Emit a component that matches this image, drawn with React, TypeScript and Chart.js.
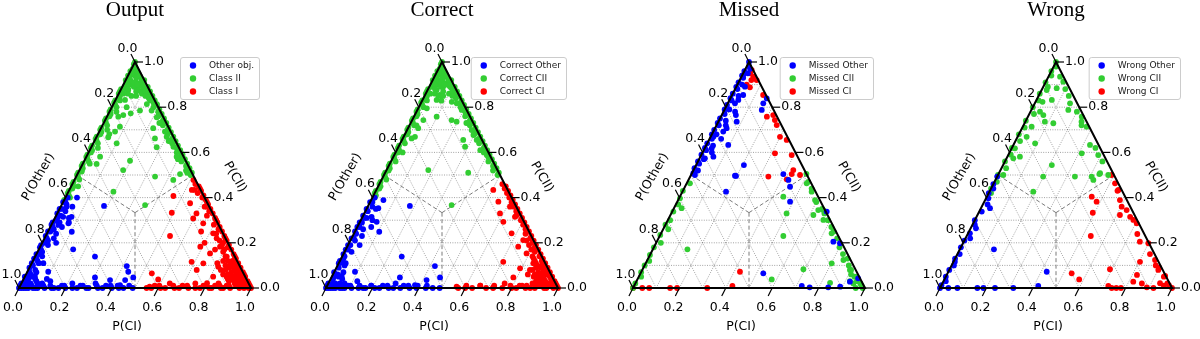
import { useEffect, useRef } from "react";
import { Chart, registerables } from "chart.js";

Chart.register(...registerables);

// Each point is [P(CI), P(CII)]; P(Other) = 1 - P(CI) - P(CII)
type Pt = [number, number];

const TITLES = ["Output", "Correct", "Missed", "Wrong"];
const LEGENDS = [
  ["Other obj.", "Class II", "Class I"],
  ["Correct Other", "Correct CII", "Correct CI"],
  ["Missed Other", "Missed CII", "Missed CI"],
  ["Wrong Other", "Wrong CII", "Wrong CI"],
];
const TICKS = [0, 0.2, 0.4, 0.6, 0.8, 1.0];
const GRID = [0.1, 0.2, 0.3, 0.4, 0.5, 0.6, 0.7, 0.8, 0.9];
const COLORS = ["#0000ff", "#32cd32", "#ff0000"];
const AXIS_BOTTOM = "P(CI)";
const AXIS_LEFT = "P(Other)";
const AXIS_RIGHT = "P(CII)";

// ---- dense edge bands shared by Output and Correct (most outputs are correct) ----
const edgeOther: Pt[] = [
  [0.0, 0.01], [0.01, 0.05], [0.0, 0.11], [0.01, 0.13], [0.0, 0.15], [0.01, 0.17], [0.0, 0.19], [0.01, 0.22],
  [0.0, 0.25], [0.01, 0.27], [0.0, 0.29], [0.01, 0.31], [0.0, 0.35], [0.01, 0.38], [0.02, 0.02], [0.03, 0.05],
  [0.02, 0.0], [0.04, 0.0], [0.06, 0.0], [0.08, 0.0], [0.1, 0.01], [0.14, 0.0], [0.17, 0.0], [0.19, 0.01],
  [0.23, 0.0], [0.26, 0.01], [0.29, 0.0], [0.33, 0.01], [0.36, 0.0], [0.39, 0.01], [0.43, 0.0], [0.49, 0.0],
  [0.01, 0.0], [0.03, 0.02], [0.05, 0.04], [0.07, 0.02], [0.04, 0.07], [0.03, 0.11],
];
const edgeCII: Pt[] = [
  [0.01, 0.41], [0.0, 0.43], [0.01, 0.45], [0.0, 0.47], [0.01, 0.49], [0.0, 0.51], [0.01, 0.53], [0.0, 0.55],
  [0.01, 0.57], [0.0, 0.59], [0.01, 0.61], [0.0, 0.63], [0.01, 0.65], [0.0, 0.67], [0.01, 0.69], [0.0, 0.71],
  [0.01, 0.73], [0.0, 0.75], [0.01, 0.77], [0.0, 0.79], [0.01, 0.81], [0.0, 0.83], [0.01, 0.85], [0.0, 0.87],
  [0.01, 0.89],
  [0.49, 0.51], [0.47, 0.53], [0.45, 0.55], [0.43, 0.57], [0.41, 0.59], [0.39, 0.61], [0.37, 0.63], [0.35, 0.65],
  [0.33, 0.67], [0.31, 0.69], [0.29, 0.71], [0.27, 0.73], [0.25, 0.75], [0.23, 0.77], [0.21, 0.79], [0.19, 0.81],
  [0.17, 0.83], [0.15, 0.85], [0.13, 0.87], [0.11, 0.89],
  [0.0, 0.99], [0.005, 0.97], [0.02, 0.97], [0.04, 0.95], [0.06, 0.93], [0.03, 0.91], [0.05, 0.94], [0.0, 0.94],
  [0.08, 0.92], [0.09, 0.89], [0.12, 0.87], [0.05, 0.89], [0.07, 0.87], [0.04, 0.86], [0.02, 0.86], [0.06, 0.85],
  [0.1, 0.86], [0.08, 0.85], [0.03, 0.96], [0.01, 0.95], [0.04, 0.91], [0.06, 0.9], [0.02, 0.9], [0.09, 0.9],
  [0.07, 0.92], [0.03, 0.88], [0.11, 0.87], [0.02, 0.83], [0.12, 0.85],
];
const edgeCI: Pt[] = [
  [0.99, 0.01], [0.97, 0.03], [0.95, 0.05], [0.93, 0.07], [0.91, 0.09], [0.89, 0.11], [0.87, 0.13], [0.85, 0.15],
  [0.83, 0.17], [0.81, 0.19], [0.79, 0.21], [0.77, 0.23], [0.75, 0.25], [0.73, 0.27], [0.71, 0.29], [0.69, 0.31],
  [0.67, 0.33], [0.65, 0.35], [0.63, 0.37], [0.61, 0.39], [0.59, 0.41], [0.57, 0.43], [0.55, 0.45],
  [0.57, 0.0], [0.6, 0.01], [0.63, 0.0], [0.66, 0.01], [0.69, 0.0], [0.72, 0.01], [0.76, 0.0], [0.79, 0.01],
  [0.82, 0.0], [0.84, 0.01], [0.86, 0.01], [0.88, 0.0], [0.9, 0.01], [0.92, 0.02], [0.94, 0.01], [0.95, 0.0],
  [0.96, 0.02], [0.98, 0.02],
  [0.93, 0.03], [0.91, 0.04], [0.89, 0.05], [0.92, 0.06], [0.9, 0.07], [0.88, 0.09], [0.86, 0.1], [0.84, 0.12],
  [0.85, 0.08], [0.87, 0.06], [0.89, 0.03], [0.82, 0.14], [0.8, 0.17], [0.78, 0.19], [0.76, 0.21],
];

// ---------------- Output ----------------
const outputOtherMain: Pt[] = [
  [0.01, 0.4], [0.0, 0.38], [0.02, 0.37], [0.01, 0.35], [0.0, 0.33], [0.02, 0.32], [0.01, 0.3], [0.03, 0.29],
  [0.0, 0.28], [0.02, 0.26], [0.01, 0.25], [0.04, 0.24], [0.0, 0.23], [0.02, 0.21], [0.01, 0.2], [0.03, 0.19],
  [0.0, 0.18], [0.02, 0.16], [0.01, 0.15], [0.0, 0.13], [0.02, 0.12], [0.01, 0.1], [0.0, 0.09], [0.03, 0.08],
  [0.01, 0.07], [0.0, 0.05], [0.02, 0.04], [0.01, 0.03], [0.0, 0.02], [0.0, 0.0], [0.02, 0.01], [0.04, 0.02],
  [0.05, 0.36], [0.03, 0.34], [0.06, 0.31], [0.05, 0.27], [0.07, 0.29], [0.04, 0.22], [0.06, 0.2], [0.03, 0.14],
  [0.05, 0.11], [0.02, 0.06], [0.06, 0.03], [0.08, 0.01],
  [0.03, 0.0], [0.05, 0.01], [0.07, 0.0], [0.09, 0.02], [0.11, 0.0], [0.13, 0.01], [0.15, 0.0], [0.18, 0.01],
  [0.2, 0.0], [0.22, 0.02], [0.25, 0.0], [0.27, 0.01], [0.3, 0.0], [0.32, 0.02], [0.34, 0.0], [0.37, 0.01],
  [0.4, 0.0], [0.42, 0.01], [0.45, 0.0], [0.47, 0.01], [0.12, 0.03], [0.1, 0.04],
  [0.05, 0.4], [0.185, 0.363], [0.025, 0.36], [0.069, 0.315], [0.07, 0.286], [0.103, 0.249], [0.148, 0.171],
  [0.258, 0.139], [0.09, 0.072], [0.042, 0.053], [0.304, 0.047], [0.375, 0.035], [0.44, 0.035], [0.416, 0.097],
  [0.435, 0.072], [0.469, 0.047], [0.429, 0.013], [0.033, 0.315], [0.03, 0.279],
];
const outputCIIMain: Pt[] = [
  [0.0, 1.0], [0.01, 0.98], [0.0, 0.96], [0.02, 0.96], [0.01, 0.94], [0.03, 0.94], [0.0, 0.92], [0.02, 0.92],
  [0.04, 0.93], [0.05, 0.91], [0.07, 0.91], [0.01, 0.9], [0.03, 0.9], [0.08, 0.9], [0.0, 0.88], [0.02, 0.88],
  [0.1, 0.88], [0.06, 0.89], [0.09, 0.87], [0.11, 0.86],
  [0.0, 0.86], [0.01, 0.84], [0.0, 0.82], [0.02, 0.8], [0.0, 0.78], [0.01, 0.76], [0.0, 0.74], [0.02, 0.72],
  [0.0, 0.7], [0.01, 0.68], [0.0, 0.66], [0.02, 0.64], [0.0, 0.62], [0.01, 0.6], [0.0, 0.58], [0.02, 0.56],
  [0.0, 0.54], [0.01, 0.52], [0.0, 0.5], [0.02, 0.48], [0.0, 0.46], [0.01, 0.44], [0.0, 0.42], [0.02, 0.4],
  [0.0, 0.39], [0.03, 0.45], [0.03, 0.55], [0.03, 0.62], [0.03, 0.7], [0.03, 0.78],
  [0.13, 0.86], [0.14, 0.84], [0.17, 0.82], [0.18, 0.8], [0.21, 0.78], [0.22, 0.76], [0.25, 0.74], [0.26, 0.72],
  [0.29, 0.7], [0.3, 0.68], [0.33, 0.66], [0.34, 0.64], [0.37, 0.62], [0.38, 0.6], [0.41, 0.58], [0.42, 0.56],
  [0.45, 0.54], [0.46, 0.52], [0.49, 0.5], [0.47, 0.51], [0.15, 0.83], [0.24, 0.73], [0.32, 0.65], [0.4, 0.57],
  [0.044, 0.898], [0.07, 0.888], [0.033, 0.876], [0.101, 0.876], [0.134, 0.846], [0.163, 0.832], [0.187, 0.814],
  [0.041, 0.832], [0.064, 0.8], [0.049, 0.758], [0.067, 0.765], [0.095, 0.773], [0.129, 0.785], [0.144, 0.814],
  [0.179, 0.785], [0.216, 0.755], [0.221, 0.773], [0.255, 0.74], [0.078, 0.714], [0.068, 0.692], [0.049, 0.681],
  [0.051, 0.667], [0.101, 0.64], [0.225, 0.707], [0.283, 0.692], [0.302, 0.669], [0.325, 0.652], [0.353, 0.625],
  [0.282, 0.623], [0.255, 0.662], [0.197, 0.563], [0.059, 0.581], [0.06, 0.549], [0.389, 0.581], [0.405, 0.593],
  [0.013, 0.515], [0.188, 0.522], [0.34, 0.493], [0.426, 0.478], [0.442, 0.504], [0.194, 0.426], [0.36, 0.367],
];
const outputCIMain: Pt[] = [
  [0.53, 0.46], [0.56, 0.44], [0.56, 0.42], [0.59, 0.4], [0.62, 0.38], [0.62, 0.36], [0.65, 0.34], [0.65, 0.32],
  [0.7, 0.3], [0.7, 0.28], [0.73, 0.26], [0.73, 0.24], [0.78, 0.22], [0.78, 0.2], [0.81, 0.18], [0.8, 0.16],
  [0.86, 0.14], [0.86, 0.12], [0.89, 0.1], [0.89, 0.08], [0.94, 0.06], [0.93, 0.05], [0.95, 0.04], [0.94, 0.03],
  [0.97, 0.02], [0.95, 0.02], [0.98, 0.01], [0.96, 0.01], [1.0, 0.0], [0.99, 0.0], [0.97, 0.0],
  [0.55, 0.0], [0.58, 0.01], [0.61, 0.0], [0.64, 0.02], [0.67, 0.0], [0.7, 0.01], [0.73, 0.0], [0.75, 0.02],
  [0.78, 0.0], [0.8, 0.01], [0.83, 0.0], [0.85, 0.02], [0.87, 0.0], [0.89, 0.01], [0.91, 0.0], [0.93, 0.01],
  [0.9, 0.05], [0.88, 0.07], [0.92, 0.04], [0.86, 0.09], [0.9, 0.08], [0.84, 0.1], [0.87, 0.11], [0.82, 0.12],
  [0.91, 0.06], [0.85, 0.06], [0.88, 0.04], [0.83, 0.08], [0.8, 0.11],
  [0.462, 0.407], [0.492, 0.333], [0.536, 0.23], [0.513, 0.478], [0.528, 0.434], [0.55, 0.375], [0.597, 0.308],
  [0.651, 0.286], [0.716, 0.242], [0.742, 0.22], [0.775, 0.183], [0.826, 0.139], [0.869, 0.109], [0.912, 0.08],
  [0.686, 0.116], [0.726, 0.08], [0.54, 0.065], [0.581, 0.038], [0.56, 0.006], [0.69, 0.183], [0.747, 0.153],
  [0.74, 0.109], [0.812, 0.094], [0.812, 0.05], [0.87, 0.05], [0.906, 0.035], [0.8, 0.021], [0.629, 0.36],
  [0.54, 0.434], [0.6, 0.33], [0.66, 0.25], [0.7, 0.2], [0.76, 0.17],
];

// ---------------- Correct ----------------
const correctOtherMain: Pt[] = [
  [0.01, 0.4], [0.0, 0.38], [0.02, 0.36], [0.01, 0.34], [0.0, 0.32], [0.02, 0.31], [0.01, 0.29], [0.0, 0.27],
  [0.03, 0.26], [0.01, 0.24], [0.0, 0.22], [0.02, 0.21], [0.01, 0.19], [0.0, 0.17], [0.03, 0.16], [0.01, 0.14],
  [0.0, 0.12], [0.02, 0.11], [0.01, 0.09], [0.0, 0.07], [0.02, 0.06], [0.01, 0.04], [0.0, 0.02], [0.0, 0.0],
  [0.03, 0.01], [0.05, 0.02], [0.04, 0.35], [0.05, 0.3], [0.06, 0.27], [0.04, 0.23], [0.05, 0.19], [0.03, 0.1],
  [0.03, 0.0], [0.05, 0.01], [0.07, 0.0], [0.09, 0.01], [0.11, 0.0], [0.14, 0.01], [0.16, 0.0], [0.19, 0.01],
  [0.21, 0.0], [0.24, 0.01], [0.27, 0.0], [0.29, 0.02], [0.32, 0.0], [0.35, 0.01], [0.39, 0.0], [0.43, 0.01],
  [0.46, 0.0], [0.12, 0.03],
  [0.053, 0.389], [0.18, 0.363], [0.049, 0.353], [0.072, 0.293], [0.105, 0.249], [0.039, 0.315], [0.257, 0.139],
  [0.089, 0.072], [0.041, 0.053], [0.295, 0.047], [0.421, 0.097], [0.416, 0.035], [0.468, 0.047], [0.377, 0.013],
];
const correctCIIMain: Pt[] = [
  [0.0, 1.0], [0.01, 0.98], [0.0, 0.96], [0.02, 0.96], [0.01, 0.94], [0.03, 0.94], [0.0, 0.92], [0.02, 0.92],
  [0.04, 0.93], [0.05, 0.91], [0.07, 0.91], [0.01, 0.9], [0.03, 0.9], [0.08, 0.9], [0.0, 0.88], [0.06, 0.89],
  [0.0, 0.86], [0.01, 0.84], [0.0, 0.82], [0.02, 0.8], [0.0, 0.78], [0.01, 0.76], [0.0, 0.74], [0.02, 0.72],
  [0.0, 0.7], [0.01, 0.68], [0.0, 0.66], [0.02, 0.64], [0.0, 0.62], [0.01, 0.6], [0.0, 0.58], [0.02, 0.56],
  [0.0, 0.54], [0.01, 0.52], [0.0, 0.5], [0.02, 0.48], [0.0, 0.46], [0.01, 0.44], [0.0, 0.42], [0.01, 0.4],
  [0.03, 0.6], [0.03, 0.72],
  [0.11, 0.88], [0.13, 0.86], [0.14, 0.84], [0.17, 0.82], [0.18, 0.8], [0.21, 0.78], [0.22, 0.76], [0.25, 0.74],
  [0.26, 0.72], [0.29, 0.7], [0.3, 0.68], [0.33, 0.66], [0.34, 0.64], [0.37, 0.62], [0.38, 0.6], [0.41, 0.58],
  [0.42, 0.56], [0.45, 0.54], [0.46, 0.52], [0.49, 0.5], [0.24, 0.73], [0.36, 0.61],
  [0.031, 0.92], [0.078, 0.898], [0.039, 0.876], [0.064, 0.854], [0.1, 0.884], [0.061, 0.832], [0.083, 0.829],
  [0.13, 0.824], [0.155, 0.817], [0.191, 0.788], [0.037, 0.795], [0.098, 0.758], [0.17, 0.743], [0.195, 0.736],
  [0.224, 0.765], [0.278, 0.699], [0.048, 0.743], [0.044, 0.707], [0.049, 0.669], [0.038, 0.662], [0.264, 0.655],
  [0.287, 0.625], [0.297, 0.677], [0.322, 0.655], [0.358, 0.51], [0.18, 0.522], [0.399, 0.588], [0.358, 0.367],
];
const correctCIMain: Pt[] = [
  [0.53, 0.46], [0.55, 0.44], [0.57, 0.42], [0.59, 0.4], [0.61, 0.38], [0.63, 0.36], [0.65, 0.34], [0.66, 0.32],
  [0.69, 0.3], [0.71, 0.28], [0.73, 0.26], [0.74, 0.24], [0.77, 0.22], [0.79, 0.2], [0.81, 0.18], [0.82, 0.16],
  [0.85, 0.14], [0.87, 0.12], [0.89, 0.1], [0.9, 0.08], [0.93, 0.06], [0.94, 0.05], [0.95, 0.04], [0.96, 0.03],
  [0.97, 0.02], [0.95, 0.02], [0.98, 0.01], [0.96, 0.01], [1.0, 0.0], [0.98, 0.0],
  [0.6, 0.0], [0.66, 0.01], [0.72, 0.0], [0.76, 0.02], [0.8, 0.0], [0.83, 0.01], [0.86, 0.0], [0.88, 0.02],
  [0.9, 0.0], [0.92, 0.01], [0.94, 0.0],
  [0.9, 0.06], [0.88, 0.07], [0.92, 0.04], [0.86, 0.09], [0.91, 0.08], [0.85, 0.11], [0.88, 0.1], [0.83, 0.13],
  [0.9, 0.03], [0.87, 0.05], [0.84, 0.06],
  [0.504, 0.434], [0.552, 0.382], [0.585, 0.33], [0.618, 0.293], [0.679, 0.242], [0.737, 0.183], [0.706, 0.116],
  [0.793, 0.087], [0.784, 0.047], [0.56, 0.006], [0.72, 0.003], [0.788, 0.153], [0.839, 0.109], [0.839, 0.08],
  [0.897, 0.05], [0.613, 0.36], [0.657, 0.315], [0.744, 0.212],
];

// ---------------- Missed ----------------
const missedOther: Pt[] = [
  [0.0, 1.0], [0.01, 0.98], [0.0, 0.96], [0.02, 0.95], [0.01, 0.93], [0.0, 0.91], [0.02, 0.9], [0.01, 0.88],
  [0.0, 0.86], [0.03, 0.85], [0.01, 0.83], [0.0, 0.81], [0.02, 0.79], [0.01, 0.77], [0.0, 0.75], [0.03, 0.74],
  [0.01, 0.72], [0.0, 0.7], [0.02, 0.68], [0.01, 0.66], [0.0, 0.64], [0.03, 0.63], [0.01, 0.61], [0.0, 0.59],
  [0.02, 0.57], [0.01, 0.55], [0.0, 0.53], [0.02, 0.52], [0.04, 0.6], [0.05, 0.66], [0.04, 0.72], [0.05, 0.78],
  [0.02, 0.97], [0.0, 0.94], [0.0, 0.89], [0.0, 0.84], [0.0, 0.79], [0.0, 0.73], [0.0, 0.68], [0.0, 0.62],
  [0.0, 0.56], [0.01, 0.51],
  [0.004, 0.942], [0.037, 0.891], [0.048, 0.854], [0.038, 0.832], [0.031, 0.817], [0.153, 0.817], [0.161, 0.788],
  [0.157, 0.839], [0.061, 0.765], [0.079, 0.736], [0.05, 0.707], [0.043, 0.692], [0.094, 0.633], [0.012, 0.669],
  [0.03, 0.618], [0.056, 0.581], [0.023, 0.574], [0.206, 0.544], [0.191, 0.497], [0.396, 0.504], [0.006, 0.508],
  [0.017, 0.5], [0.196, 0.496], [0.188, 0.426], [0.453, 0.448], [0.486, 0.382], [0.431, 0.478], [0.666, 0.338],
  [0.761, 0.205], [0.793, 0.198], [0.529, 0.065], [0.723, 0.009], [0.76, 0.003], [0.84, 0.003], [0.89, 0.006],
  [0.921, 0.028], [0.949, 0.043],
];
const missedCII: Pt[] = [
  [0.014, 0.463], [0.004, 0.397], [0.033, 0.353], [0.005, 0.338], [0.022, 0.26], [0.0, 0.235], [0.149, 0.171],
  [0.0, 0.146], [0.0, 0.1], [0.01, 0.05], [0.0, 0.02], [0.01, 0.3], [0.0, 0.28], [0.02, 0.2], [0.0, 0.18],
  [0.01, 0.12], [0.0, 0.07], [0.0, 0.0], [0.0, 0.43], [0.01, 0.37],
  [0.446, 0.404], [0.497, 0.33], [0.533, 0.23], [0.517, 0.463], [0.557, 0.426], [0.59, 0.389], [0.626, 0.345],
  [0.616, 0.323], [0.67, 0.301], [0.735, 0.242], [0.648, 0.345], [0.693, 0.083], [0.579, 0.038], [0.838, 0.023],
  [0.802, 0.109], [0.845, 0.124], [0.895, 0.08], [0.939, 0.05], [0.99, 0.0], [0.495, 0.505],
  [0.52, 0.47], [0.55, 0.44], [0.6, 0.38], [0.64, 0.35], [0.66, 0.33], [0.69, 0.3], [0.72, 0.27], [0.74, 0.25],
  [0.77, 0.22], [0.8, 0.18], [0.83, 0.15], [0.86, 0.13], [0.88, 0.1], [0.9, 0.08], [0.93, 0.05], [0.95, 0.03],
  [0.97, 0.02], [0.98, 0.01], [0.91, 0.06], [0.94, 0.02], [0.96, 0.0], [0.92, 0.03],
];
const missedCI: Pt[] = [
  [0.029, 0.965], [0.051, 0.935], [0.073, 0.92], [0.06, 0.888], [0.134, 0.854], [0.198, 0.758], [0.24, 0.743],
  [0.259, 0.721], [0.299, 0.669], [0.335, 0.655], [0.314, 0.596], [0.39, 0.588], [0.43, 0.522], [0.337, 0.493],
  [0.432, 0.504], [0.47, 0.5], [0.422, 0.481], [0.425, 0.072], [0.424, 0.009], [0.222, 0.765],
  [0.0, 0.0], [0.04, 0.0], [0.07, 0.0], [0.16, 0.0], [0.19, 0.0], [0.32, 0.0],
  [0.03, 0.95], [0.05, 0.92], [0.04, 0.9],
];

// ---------------- Wrong ----------------
const wrongOther: Pt[] = [
  [0.0, 0.493], [0.01, 0.397], [0.039, 0.353], [0.011, 0.338], [0.023, 0.264], [0.008, 0.242], [0.0, 0.21],
  [0.147, 0.171], [0.006, 0.116], [0.0, 0.08], [0.0, 0.05], [0.0, 0.013], [0.036, 0.0], [0.075, 0.0], [0.161, 0.0],
  [0.187, 0.0], [0.237, 0.0], [0.316, 0.0], [0.419, 0.009], [0.424, 0.072],
  [0.0, 0.46], [0.01, 0.44], [0.0, 0.42], [0.02, 0.37], [0.0, 0.3], [0.01, 0.28], [0.02, 0.22], [0.0, 0.18],
  [0.01, 0.15], [0.0, 0.13], [0.01, 0.1], [0.01, 0.03], [0.0, 0.0],
];
const wrongCII: Pt[] = [
  [0.0, 1.0], [0.01, 0.98], [0.0, 0.96], [0.01, 0.94], [0.0, 0.91], [0.02, 0.89], [0.0, 0.86], [0.01, 0.83],
  [0.0, 0.8], [0.02, 0.77], [0.0, 0.74], [0.01, 0.71], [0.0, 0.68], [0.02, 0.65], [0.0, 0.62], [0.01, 0.59],
  [0.0, 0.56], [0.02, 0.53], [0.0, 0.5], [0.01, 0.47], [0.0, 0.44], [0.01, 0.42],
  [0.05, 0.935], [0.075, 0.913], [0.061, 0.884], [0.022, 0.876], [0.066, 0.832], [0.152, 0.817], [0.159, 0.788],
  [0.03, 0.824], [0.041, 0.78], [0.063, 0.765], [0.084, 0.736], [0.124, 0.729], [0.232, 0.758], [0.242, 0.736],
  [0.275, 0.714], [0.038, 0.714], [0.09, 0.64], [0.039, 0.669], [0.014, 0.618], [0.029, 0.574], [0.054, 0.581],
  [0.21, 0.544], [0.313, 0.596], [0.388, 0.588], [0.436, 0.508], [0.407, 0.493], [0.198, 0.493], [0.023, 0.5],
  [0.33, 0.633], [0.335, 0.493], [0.435, 0.504], [0.422, 0.478], [0.475, 0.5], [0.189, 0.426],
  [0.1, 0.88], [0.13, 0.85], [0.2, 0.78], [0.25, 0.72], [0.36, 0.62], [0.42, 0.56],
];
const wrongCI: Pt[] = [
  [0.523, 0.463], [0.552, 0.434], [0.452, 0.404], [0.484, 0.382], [0.581, 0.389], [0.603, 0.36], [0.492, 0.333],
  [0.614, 0.323], [0.632, 0.345], [0.662, 0.315], [0.683, 0.301], [0.705, 0.286], [0.731, 0.239], [0.759, 0.205],
  [0.799, 0.198], [0.535, 0.23], [0.804, 0.116], [0.865, 0.124], [0.901, 0.08], [0.944, 0.053], [0.82, 0.058],
  [0.819, 0.028], [0.89, 0.003], [0.691, 0.083], [0.535, 0.065], [0.581, 0.038], [0.721, 0.009], [0.74, 0.0],
  [0.76, 0.0], [0.78, 0.0], [0.938, 0.021], [0.98, 0.013], [1.0, 0.0], [0.96, 0.01], [0.92, 0.0], [0.86, 0.02],
  [0.55, 0.43], [0.83, 0.15], [0.88, 0.1], [0.9, 0.09], [0.94, 0.05], [0.97, 0.02], [0.49, 0.5],
];

const PANELS: Pt[][][] = [
  [[...outputOtherMain, ...edgeOther], [...outputCIIMain, ...edgeCII], [...outputCIMain, ...edgeCI]],
  [[...correctOtherMain, ...edgeOther], [...correctCIIMain, ...edgeCII], [...correctCIMain, ...edgeCI]],
  [missedOther, missedCII, missedCI],
  [wrongOther, wrongCII, wrongCI],
];

const toXY = ([ci, cii]: Pt) => ({ x: ci + cii / 2, y: cii });

const fmt = (v: number) => v.toFixed(1);

const ternaryPlugin = {
  id: "ternary",
  beforeDatasetsDraw(chart: any) {
    const ctx: CanvasRenderingContext2D = chart.ctx;
    const sx = chart.scales.x;
    const sy = chart.scales.y;
    const P = (ci: number, cii: number) => ({
      x: sx.getPixelForValue(ci + cii / 2),
      y: sy.getPixelForValue(cii),
    });
    const line = (a: any, b: any) => {
      ctx.beginPath();
      ctx.moveTo(a.x, a.y);
      ctx.lineTo(b.x, b.y);
      ctx.stroke();
    };
    ctx.save();
    ctx.strokeStyle = "rgba(90,90,90,0.7)";
    ctx.lineWidth = 0.8;
    ctx.setLineDash([1, 1.4]);
    for (const v of GRID) {
      line(P(0, v), P(1 - v, v));
      line(P(v, 0), P(v, 1 - v));
      line(P(1 - v, 0), P(0, 1 - v));
    }
    ctx.strokeStyle = "#7a7a7a";
    ctx.lineWidth = 1;
    ctx.setLineDash([4, 2.5]);
    const c = P(1 / 3, 1 / 3);
    line(c, P(0.5, 0));
    line(c, P(0, 0.5));
    line(c, P(0.5, 0.5));
    ctx.restore();
  },
  afterDatasetsDraw(chart: any, _args: any, opts: any) {
    const ctx: CanvasRenderingContext2D = chart.ctx;
    const sx = chart.scales.x;
    const sy = chart.scales.y;
    const P = (ci: number, cii: number) => ({
      x: sx.getPixelForValue(ci + cii / 2),
      y: sy.getPixelForValue(cii),
    });
    const line = (a: any, b: any) => {
      ctx.beginPath();
      ctx.moveTo(a.x, a.y);
      ctx.lineTo(b.x, b.y);
      ctx.stroke();
    };
    ctx.save();
    const A = P(0, 0), B = P(1, 0), C = P(0, 1);
    ctx.strokeStyle = "#000";
    ctx.lineWidth = 2;
    ctx.beginPath();
    ctx.moveTo(A.x, A.y);
    ctx.lineTo(B.x, B.y);
    ctx.lineTo(C.x, C.y);
    ctx.closePath();
    ctx.stroke();

    ctx.lineWidth = 1.2;
    ctx.fillStyle = "#000";
    ctx.font = "12.5px 'DejaVu Sans'";
    const d = 0.035;
    for (const v of TICKS) {
      const pb = P(v, 0);
      const qb = P(v, -d);
      line(pb, qb);
      ctx.textAlign = "center";
      ctx.textBaseline = "middle";
      ctx.fillText(fmt(v), pb.x - 6, pb.y + 20);
      const pl = P(0, 1 - v);
      const ql = P(-d, 1 - v + d);
      line(pl, ql);
      ctx.fillText(fmt(v), pl.x - 7.5, pl.y - 13.5);
      const pr = P(1 - v, v);
      const qr = P(1 - v + 0.0345, v);
      line(pr, qr);
      ctx.textAlign = "left";
      ctx.fillText(fmt(v), qr.x + 1, pr.y);
    }

    const ca = chart.chartArea;
    ctx.textAlign = "center";
    ctx.textBaseline = "middle";
    ctx.fillText(AXIS_BOTTOM, ca.left + 108, ca.bottom + 39);
    ctx.save();
    ctx.translate(ca.left + 19.5, ca.top + 115);
    ctx.rotate(-Math.PI / 3);
    ctx.fillText(AXIS_LEFT, 0, 0);
    ctx.restore();
    ctx.save();
    ctx.translate(ca.left + 216, ca.top + 115);
    ctx.rotate(Math.PI / 3);
    ctx.fillText(AXIS_RIGHT, 0, 0);
    ctx.restore();

    ctx.font = "21px 'Liberation Serif'";
    ctx.textAlign = "center";
    ctx.textBaseline = "alphabetic";
    ctx.fillText(opts.title, C.x, 16);

    ctx.font = "9px 'DejaVu Sans'";
    const datasets = chart.data.datasets;
    let maxW = 0;
    for (const ds of datasets) maxW = Math.max(maxW, ctx.measureText(ds.label).width);
    const right = ca.right + 8;
    const top = ca.top - 5;
    const w = 29 + maxW + 5;
    const h = 42;
    const left = right - w;
    ctx.beginPath();
    (ctx as any).roundRect(left + 0.5, top + 0.5, w, h, 2.5);
    ctx.fillStyle = "rgba(255,255,255,0.85)";
    ctx.fill();
    ctx.strokeStyle = "#cccccc";
    ctx.lineWidth = 1;
    ctx.stroke();
    const rows = [8.5, 21.5, 34.5];
    datasets.forEach((ds: any, k: number) => {
      ctx.beginPath();
      ctx.fillStyle = ds.backgroundColor;
      ctx.arc(left + 13, top + rows[k], 3.2, 0, Math.PI * 2);
      ctx.fill();
      ctx.fillStyle = "#222";
      ctx.textAlign = "left";
      ctx.textBaseline = "middle";
      ctx.fillText(ds.label, left + 29, top + rows[k]);
    });
    ctx.restore();
  },
};

function Panel({ index }: { index: number }) {
  const ref = useRef<HTMLCanvasElement>(null);
  useEffect(() => {
    const canvas = ref.current;
    if (!canvas) return;
    const sets = PANELS[index];
    const chart = new Chart(canvas, {
      type: "scatter",
      data: {
        datasets: sets.map((arr, k) => ({
          label: LEGENDS[index][k],
          data: arr.map(toXY),
          backgroundColor: COLORS[k],
          borderWidth: 0,
          pointRadius: 2.9,
          pointHoverRadius: 2.9,
          clip: false as any,
        })),
      },
      options: {
        responsive: false,
        animation: false,
        events: [],
        layout: { padding: { left: 19, right: 29, top: 62, bottom: 51 } },
        scales: {
          x: { type: "linear", min: 0, max: 1, display: false },
          y: { type: "linear", min: 0, max: 1, display: false },
        },
        plugins: {
          legend: { display: false },
          tooltip: { enabled: false },
          title: { display: false },
          ternary: { title: TITLES[index] },
        } as any,
      },
      plugins: [ternaryPlugin as any],
    });
    return () => chart.destroy();
  }, [index]);
  return (
    <canvas
      ref={ref}
      width={280}
      height={339}
      style={{ position: "absolute", left: 307 * index, top: 0, width: 280, height: 339 }}
    />
  );
}

export default function App() {
  return (
    <div
      style={{
        position: "fixed",
        left: 0,
        top: 0,
        width: 1200,
        height: 339,
        overflow: "hidden",
        background: "#fff",
      }}
    >
      {[0, 1, 2, 3].map((i) => (
        <Panel key={i} index={i} />
      ))}
    </div>
  );
}
